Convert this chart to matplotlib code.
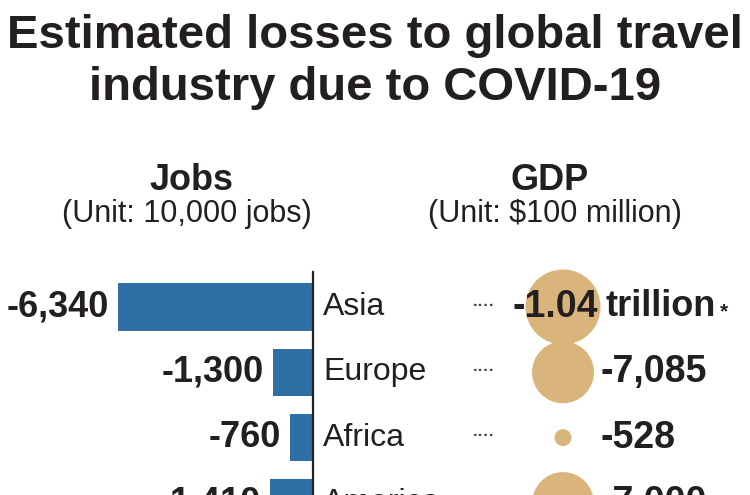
import matplotlib
matplotlib.use("Agg")
import matplotlib.pyplot as plt
import numpy as np

plt.rcParams['font.family'] = ['Liberation Sans', 'DejaVu Sans']

regions = ['Asia', 'Europe', 'Africa', 'America']
jobs = [-6340, -1300, -760, -1410]
jobs_labels = ['-6,340', '-1,300', '-760', '-1,410']
gdp = [-10400, -7085, -528, -7000]
gdp_labels = ['-1.04', '-7,085', '-528', '-7,000']

bar_color = '#2f6fa6'
dot_color = '#d9b57c'
text_color = '#231f20'

W, H = 750, 495
fig = plt.figure(figsize=(7.5, 4.95), dpi=100)

fig.text(0.5, 1 - 48 / H, "Estimated losses to global travel", ha='center', va='baseline',
         fontsize=34, fontweight='bold', color=text_color)
fig.text(0.5, 1 - 100 / H, "industry due to COVID-19", ha='center', va='baseline',
         fontsize=34, fontweight='bold', color=text_color)

fig.text(192 / W, 1 - 190 / H, "Jobs", ha='center', va='baseline', fontsize=26,
         fontweight='bold', color=text_color)
fig.text(187 / W, 1 - 222 / H, "(Unit: 10,000 jobs)", ha='center', va='baseline', fontsize=22,
         color=text_color)
fig.text(550 / W, 1 - 190 / H, "GDP", ha='center', va='baseline', fontsize=26,
         fontweight='bold', color=text_color)
fig.text(555 / W, 1 - 222 / H, "(Unit: $100 million)", ha='center', va='baseline', fontsize=22,
         color=text_color)

# rows: 65 px apart, Asia centre at y=307 px
top_px, axis_x = 272, 313
row_h = 65.3
y_top = -(307 - top_px) / row_h
y_bot = (H - 307) / row_h
y = np.arange(len(regions))

# jobs bars, 6340 -> 195 px
ax = fig.add_axes([0, 0, axis_x / W, (H - top_px) / H])
scale = 6340 / 195
ax.barh(y, jobs, height=0.72, color=bar_color)
ax.set_xlim(-axis_x * scale, 0)
ax.set_ylim(y_bot, y_top)
for s in ['top', 'left', 'bottom']:
    ax.spines[s].set_visible(False)
ax.spines['right'].set_linewidth(1.6)
ax.spines['right'].set_color(text_color)
ax.set_xticks([])
ax.set_yticks([])
ax.patch.set_visible(False)
for i, v in enumerate(jobs):
    ax.text(v - 9 * scale, i, jobs_labels[i], ha='right', va='center', fontsize=26,
            fontweight='bold', color=text_color)

# gdp circles, area proportional to the loss
ax2 = fig.add_axes([axis_x / W, 0, (W - axis_x) / W, (H - top_px) / H])
ax2.set_xlim(axis_x, W)
ax2.set_ylim(y_bot, y_top)
ax2.axis('off')
ax2.scatter([563] * len(gdp), y, s=np.abs(gdp) * 0.281, color=dot_color, linewidths=0,
            zorder=1, clip_on=False)
for i, r in enumerate(regions):
    ax2.text(323, i, r, ha='left', va='center', fontsize=23, color=text_color)
    ax2.text(484, i - 0.03, '\u00b7\u00b7\u00b7\u00b7', ha='center', va='center', fontsize=12,
             fontweight='bold', color='#444444')
    if i == 0:
        ax2.text(598, i, gdp_labels[i], ha='right', va='center', fontsize=27,
                 fontweight='bold', color=text_color, zorder=3)
        ax2.text(605, i, 'trillion', ha='left', va='center', fontsize=26,
                 fontweight='bold', color=text_color, zorder=3)
        ax2.text(720, i + 0.08, '*', ha='left', va='center', fontsize=15,
                 fontweight='bold', color=text_color, zorder=3)
    else:
        ax2.text(601, i, gdp_labels[i], ha='left', va='center', fontsize=27,
                 fontweight='bold', color=text_color, zorder=3)

fig.savefig('out.png', dpi=100)
